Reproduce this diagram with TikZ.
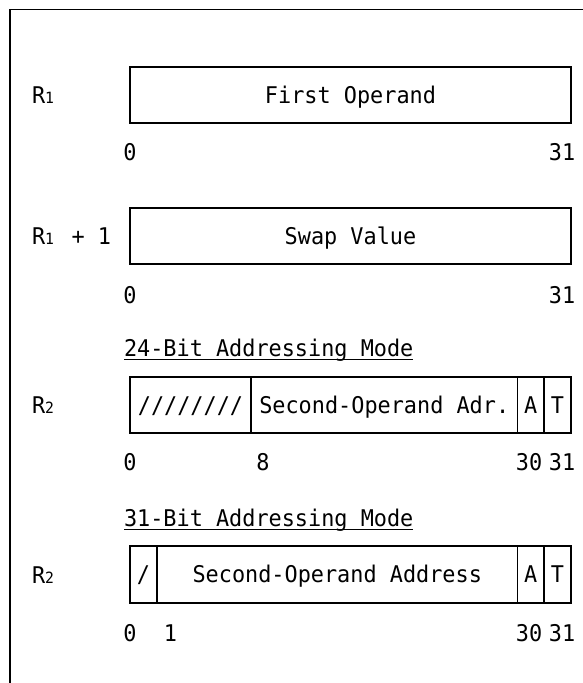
\documentclass[tikz,border=0pt]{standalone}
\usepackage{fontspec}
\setmainfont[FakeStretch=0.95]{DejaVu Sans Mono}
\usetikzlibrary{positioning}
\newcommand{\regsub}[1]{\makebox[13.2pt][l]{\fontsize{15.5}{15.5}\selectfont #1}}

\begin{document}
\begin{tikzpicture}[x=1pt,y=-1pt,
        every node/.style={font=\fontsize{23}{27}\selectfont, inner sep=0pt, outer sep=0pt, text height=16.8pt, text depth=0pt},
        field/.style={draw, line width=1.8pt, minimum height=56pt, anchor=west},
        lbl/.style={anchor=west},
        modetitle/.style={anchor=base west}]
        \useasboundingbox (0,0) rectangle (583,683);
        \draw[line width=1.8pt] (583,9.5) -- (10,9.5) -- (10,683);

        % R1
        \node[lbl] (r1) at (32,95) {R\regsub{1}};
        \node[field, minimum width=441pt] (first) at (130,95) {First Operand};
        \node (first0) at (130,152) {0};
        \node (first31) at (562,152) {31};

        % R1 + 1
        \node[lbl] (r1p) at (32,236) {R\regsub{1} + 1};
        \node[field, minimum width=441pt] (swap) at (130,236) {Swap Value};
        \node (swap0) at (130,295) {0};
        \node (swap31) at (562,295) {31};

        % R2, 24 bit
        \node[modetitle] (mode24) at (124,356.5) {24-Bit Addressing Mode};
        \draw[line width=1.5pt] ([yshift=-3pt]mode24.base west) -- ([yshift=-3pt]mode24.base east);
        \node[lbl] (r2a) at (32,405) {R\regsub{2}};
        \node[field, minimum width=121pt] (pad24) at (130,405) {////////};
        \node[field, minimum width=266.5pt, right=0pt of pad24] (adr24) {Second-Operand Adr.};
        \node[field, minimum width=26.5pt, right=0pt of adr24] (a24) {A};
        \node[field, minimum width=27pt, right=0pt of a24] (t24) {T};
        \node (b0a) at (130,462) {0};
        \node (b8) at (263,462) {8};
        \node (b30a) at (529,462) {30};
        \node (b31a) at (562,462) {31};

        % R2, 31 bit
        \node[modetitle] (mode31) at (124,526.5) {31-Bit Addressing Mode};
        \draw[line width=1.5pt] ([yshift=-3pt]mode31.base west) -- ([yshift=-3pt]mode31.base east);
        \node[lbl] (r2b) at (32,575) {R\regsub{2}};
        \node[field, minimum width=27pt, minimum height=57pt] (pad31) at (130,574.5) {/};
        \node[field, minimum width=360.5pt, minimum height=57pt, right=0pt of pad31] (adr31) {Second-Operand Address};
        \node[field, minimum width=26.5pt, minimum height=57pt, right=0pt of adr31] (a31) {A};
        \node[field, minimum width=27pt, minimum height=57pt, right=0pt of a31] (t31) {T};
        \node (b0b) at (130,633) {0};
        \node (b1) at (170.5,633) {1};
        \node (b30b) at (529,633) {30};
        \node (b31b) at (562,633) {31};
    \end{tikzpicture}
\end{document}
